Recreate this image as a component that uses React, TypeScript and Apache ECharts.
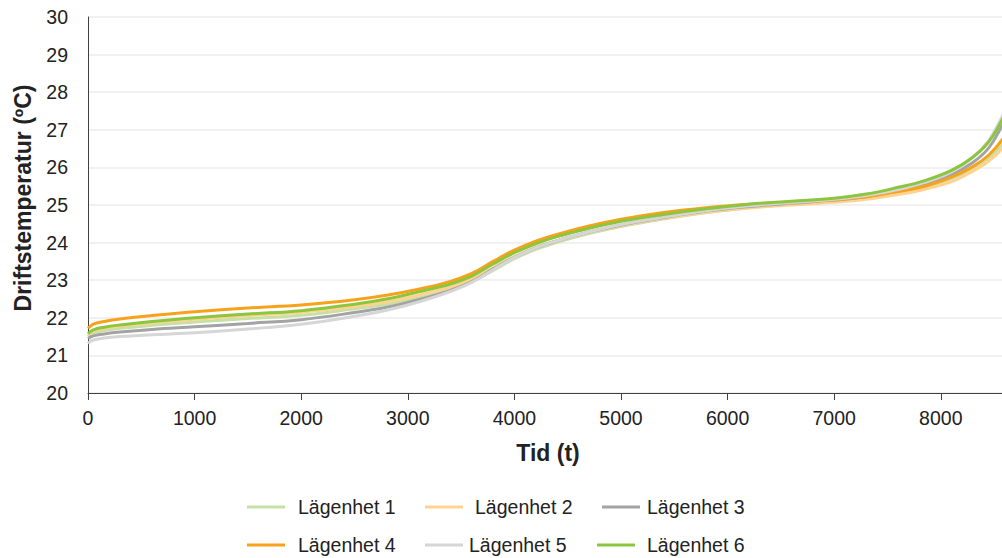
import React, { useEffect, useRef } from "react";
import * as echarts from "echarts";

const hours = [0, 50, 150, 300, 600, 1000, 1500, 2000, 2500, 2800, 3100, 3400, 3600, 3800, 4000, 4200, 4400, 4700, 5000, 5400, 5800, 6200, 6600, 7000, 7300, 7600, 7850, 8100, 8300, 8450, 8574, 8760];

const lag1 = [21.5, 21.6, 21.66, 21.72, 21.8, 21.89, 21.98, 22.07, 22.24, 22.36, 22.53, 22.75, 22.96, 23.26, 23.57, 23.82, 24.01, 24.24, 24.43, 24.63, 24.8, 24.93, 25.02, 25.1, 25.19, 25.34, 25.48, 25.7, 25.97, 26.25, 26.6, 27.4];
const lag2 = [21.55, 21.65, 21.72, 21.78, 21.87, 21.96, 22.06, 22.15, 22.3, 22.42, 22.6, 22.82, 23.03, 23.33, 23.63, 23.87, 24.05, 24.27, 24.45, 24.64, 24.8, 24.92, 25.0, 25.07, 25.15, 25.28, 25.42, 25.62, 25.9, 26.17, 26.5, 27.3];
const lag3 = [21.45, 21.52, 21.57, 21.62, 21.69, 21.76, 21.85, 21.95, 22.14, 22.28, 22.48, 22.73, 22.96, 23.3, 23.61, 23.86, 24.05, 24.28, 24.47, 24.67, 24.84, 24.96, 25.05, 25.13, 25.22, 25.38, 25.54, 25.8, 26.13, 26.52, 27.1, 28.0];
const lag4 = [21.72, 21.83, 21.9, 21.97, 22.06, 22.16, 22.26, 22.34, 22.48, 22.6, 22.76, 22.97, 23.18, 23.5, 23.8, 24.04, 24.22, 24.44, 24.62, 24.8, 24.93, 25.02, 25.08, 25.14, 25.22, 25.36, 25.5, 25.74, 26.02, 26.33, 26.73, 27.6];
const lag5 = [21.32, 21.41, 21.46, 21.5, 21.55, 21.6, 21.7, 21.83, 22.04, 22.2, 22.42, 22.7, 22.94, 23.28, 23.6, 23.86, 24.05, 24.28, 24.48, 24.68, 24.85, 24.98, 25.07, 25.15, 25.25, 25.41, 25.6, 25.88, 26.27, 26.72, 27.35, 28.4];
const lag6 = [21.58, 21.68, 21.75, 21.81, 21.9, 22.0, 22.1, 22.19, 22.36, 22.5, 22.69, 22.9, 23.11, 23.43, 23.73, 23.97, 24.16, 24.38, 24.57, 24.75, 24.9, 25.02, 25.1, 25.18, 25.29, 25.47, 25.65, 25.92, 26.27, 26.68, 27.26, 28.3];

const seriesNames = ["Lägenhet 1", "Lägenhet 2", "Lägenhet 3", "Lägenhet 4", "Lägenhet 5", "Lägenhet 6"];
const seriesValues = [lag1, lag2, lag3, lag4, lag5, lag6];
const colors = ["#c6e0a6", "#ffd28e", "#a3a3a5", "#f8a21c", "#d6d6d6", "#8cc63f"];

const xAxisTitle = "Tid (t)";
const yAxisTitle = "Driftstemperatur (ºC)";
const xVisibleMax = 8574;

// legend layout: [left of line, gap line->text, top of legend box]
const legendPos = [
  [247, 13, 497],
  [425, 12, 497],
  [602, 7, 497],
  [247, 13, 535],
  [425, 6, 535],
  [597, 12, 535],
];

export default function App() {
  const ref = useRef<HTMLDivElement>(null);
  useEffect(() => {
    if (!ref.current) return;
    const chart = echarts.init(ref.current, null, { renderer: "svg" });
    const family = '"Liberation Sans", Arial, sans-serif';
    const fs = 19.5;
    chart.setOption({
      animation: false,
      backgroundColor: "#fff",
      grid: { left: 88, top: 17, bottom: 165, right: 0, containLabel: false },
      xAxis: {
        type: "value",
        min: 0,
        max: xVisibleMax,
        interval: 1000,
        axisLine: { show: true, lineStyle: { color: "#404040", width: 1 } },
        axisTick: { show: true, length: 7, lineStyle: { color: "#404040" } },
        axisLabel: { fontSize: fs, color: "#222", fontFamily: family, margin: 15, showMaxLabel: false, formatter: (v: number) => String(v) },
        splitLine: { show: false },
      },
      yAxis: {
        type: "value",
        min: 20,
        max: 30,
        interval: 1,
        axisLine: { show: true, lineStyle: { color: "#404040", width: 1 } },
        axisTick: { show: false },
        axisLabel: { fontSize: fs, color: "#222", fontFamily: family, margin: 20 },
        splitLine: { show: true, lineStyle: { color: "#ececec", width: 1.5 } },
      },
      legend: seriesNames.map((name, i) => ({
        data: [name],
        left: legendPos[i][0],
        top: legendPos[i][2],
        padding: 0,
        icon: "rect",
        itemWidth: 38,
        itemHeight: 3,
        textStyle: { fontSize: fs, color: "#222", fontFamily: family, padding: [0, 0, 0, legendPos[i][1] - 5] },
      })),
      graphic: [
        {
          type: "text",
          x: 23,
          y: 198,
          rotation: Math.PI / 2,
          style: { text: yAxisTitle, font: `bold 23px ${family}`, fill: "#222", textAlign: "center", textVerticalAlign: "middle" },
        },
        {
          type: "text",
          x: 548,
          y: 453,
          style: { text: xAxisTitle, font: `bold 23px ${family}`, fill: "#222", textAlign: "center", textVerticalAlign: "middle" },
        },
      ],
      series: seriesNames.map((name, i) => ({
        name,
        type: "line",
        smooth: 0.4,
        symbol: "none",
        clip: true,
        color: colors[i],
        itemStyle: { color: colors[i] },
        lineStyle: { width: 3, color: colors[i] },
        data: hours.map((h, j) => [h, seriesValues[i][j]]),
      })),
    });
    return () => chart.dispose();
  }, []);
  return <div ref={ref} style={{ position: "fixed", left: 0, top: 0, width: 1002, height: 558 }} />;
}
